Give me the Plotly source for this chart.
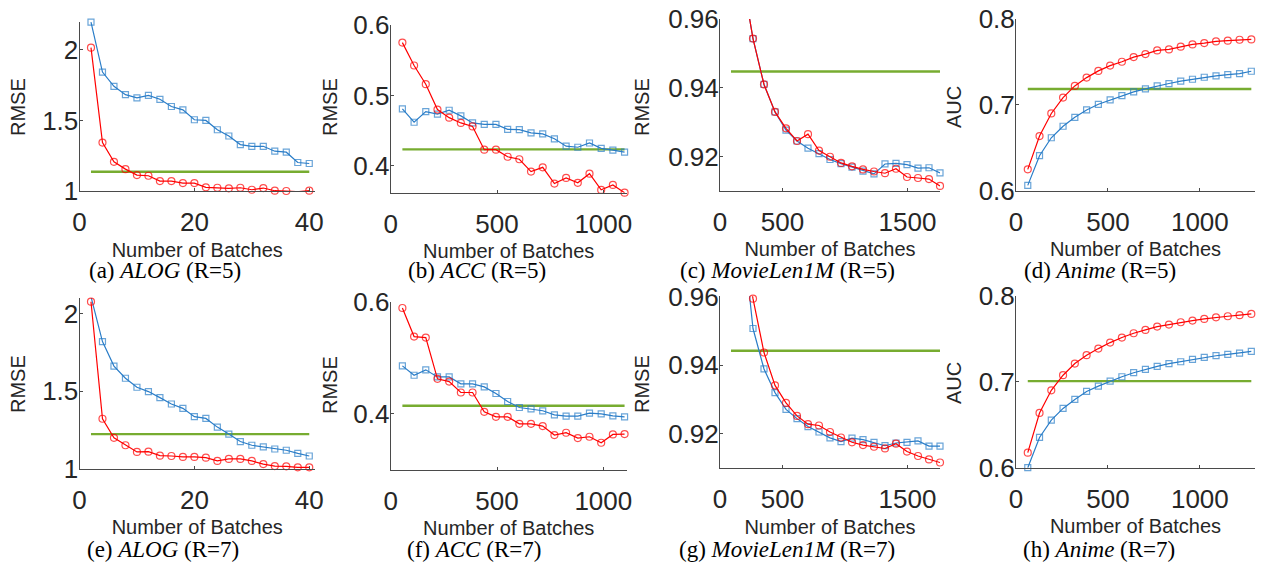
import plotly.graph_objects as go

# ---------------- data ----------------
alog_x = [2, 4, 6, 8, 10, 12, 14, 16, 18, 20, 22, 24, 26, 28, 30, 32, 34, 36, 38, 40]
acc_x = [55, 110, 165, 220, 275, 330, 385, 440, 495, 550, 605, 660, 715, 770, 825, 880, 935, 990, 1045, 1100]
movie_x = [176, 264, 352, 440, 528, 616, 704, 792, 880, 968, 1056, 1144, 1232, 1320, 1408, 1496, 1584, 1672, 1760]
anime_x = [64, 128, 192, 256, 320, 384, 448, 512, 576, 640, 704, 768, 832, 896, 960, 1024, 1088, 1152, 1216, 1280]

# R=5
alog5_red = [2.016, 1.343, 1.207, 1.155, 1.113, 1.108, 1.070, 1.070, 1.056, 1.056, 1.026, 1.023, 1.019, 1.023, 1.009, 1.021, 1.002, 1.000, 0.995, 1.002]
alog5_blue = [2.197, 1.843, 1.742, 1.683, 1.660, 1.678, 1.650, 1.599, 1.575, 1.505, 1.500, 1.434, 1.390, 1.329, 1.317, 1.317, 1.282, 1.275, 1.202, 1.195]
alog5_green = [1.136, 1.136]

acc5_red = [0.575, 0.5425, 0.516, 0.480, 0.4685, 0.461, 0.456, 0.423, 0.423, 0.413, 0.4095, 0.392, 0.398, 0.375, 0.383, 0.376, 0.389, 0.366, 0.373, 0.362]
acc5_blue = [0.481, 0.462, 0.477, 0.4735, 0.479, 0.471, 0.461, 0.459, 0.459, 0.452, 0.4515, 0.447, 0.4455, 0.4385, 0.428, 0.4265, 0.4325, 0.425, 0.4225, 0.4195]
acc5_green = [0.4235, 0.4235]

movie5_red = [0.9731, 0.9544, 0.9410, 0.9330, 0.9282, 0.9245, 0.9265, 0.9217, 0.9199, 0.9181, 0.9171, 0.9162, 0.9156, 0.9151, 0.9164, 0.9140, 0.9137, 0.9134, 0.9114]
movie5_blue = [0.9731, 0.9544, 0.9410, 0.9330, 0.9277, 0.9245, 0.9224, 0.9208, 0.9191, 0.9179, 0.9169, 0.9157, 0.9149, 0.9178, 0.9180, 0.9176, 0.9166, 0.9167, 0.9152]
movie5_green = [0.9448, 0.9448]

anime5_red = [0.6249, 0.6637, 0.6900, 0.7085, 0.7221, 0.7318, 0.7396, 0.7458, 0.7503, 0.7557, 0.7592, 0.7635, 0.7647, 0.7678, 0.7705, 0.7720, 0.7740, 0.7748, 0.7759, 0.7763]
anime5_blue = [0.6062, 0.6408, 0.6617, 0.6751, 0.6855, 0.6941, 0.7007, 0.7058, 0.7109, 0.7151, 0.7186, 0.7221, 0.7249, 0.7276, 0.7299, 0.7322, 0.7338, 0.7353, 0.7365, 0.7392]
anime5_green = [0.7186, 0.7186]

# R=7
alog7_red = [2.076, 1.322, 1.199, 1.151, 1.108, 1.110, 1.084, 1.082, 1.076, 1.076, 1.071, 1.050, 1.063, 1.063, 1.050, 1.030, 1.017, 1.015, 1.009, 1.009]
alog7_blue = [2.108, 1.819, 1.661, 1.583, 1.525, 1.497, 1.458, 1.417, 1.389, 1.335, 1.324, 1.268, 1.223, 1.175, 1.151, 1.140, 1.127, 1.119, 1.099, 1.082]
alog7_green = [1.223, 1.223]

acc7_red = [0.5893, 0.5381, 0.5363, 0.4625, 0.4577, 0.4381, 0.4381, 0.4036, 0.3946, 0.3946, 0.3821, 0.3821, 0.3780, 0.3619, 0.3661, 0.3565, 0.3589, 0.3482, 0.3631, 0.3637]
acc7_blue = [0.4857, 0.4690, 0.4786, 0.4660, 0.4660, 0.4536, 0.4536, 0.4482, 0.4363, 0.4220, 0.4113, 0.4089, 0.4054, 0.3982, 0.3958, 0.3958, 0.4012, 0.4000, 0.3964, 0.3946]
acc7_green = [0.4143, 0.4143]

movie7_red = [0.9790, 0.9594, 0.9437, 0.9341, 0.9290, 0.9252, 0.9228, 0.9224, 0.9205, 0.9189, 0.9175, 0.9167, 0.9162, 0.9157, 0.9171, 0.9148, 0.9135, 0.9125, 0.9116]
movie7_blue = [0.9813, 0.9507, 0.9389, 0.9320, 0.9271, 0.9244, 0.9221, 0.9205, 0.9188, 0.9177, 0.9187, 0.9183, 0.9175, 0.9165, 0.9173, 0.9175, 0.9179, 0.9164, 0.9164]
movie7_green = [0.9442, 0.9442]

anime7_red = [0.6175, 0.6638, 0.6902, 0.7078, 0.7214, 0.7311, 0.7388, 0.7458, 0.7517, 0.7567, 0.7606, 0.7645, 0.7668, 0.7695, 0.7715, 0.7734, 0.7753, 0.7765, 0.7777, 0.7792]
anime7_blue = [0.6000, 0.6353, 0.6555, 0.6691, 0.6796, 0.6889, 0.6951, 0.7009, 0.7060, 0.7107, 0.7146, 0.7181, 0.7212, 0.7235, 0.7262, 0.7285, 0.7305, 0.7320, 0.7336, 0.7355]
anime7_green = [0.7009, 0.7009]

# tick labels
alog_xticks = [0, 20, 40]
alog_xtext = ["0", "20", "40"]
alog_yticks = [1, 1.5, 2]
alog_ytext = ["1", "1.5", "2"]
acc_xticks = [0, 500, 1000]
acc_xtext = ["0", "500", "1000"]
acc5_yticks = [0.4, 0.5, 0.6]
acc5_ytext = ["0.4", "0.5", "0.6"]
acc7_yticks = [0.4, 0.6]
acc7_ytext = ["0.4", "0.6"]
movie_xticks = [0, 500, 1500]
movie_xtext = ["0", "500", "1500"]
movie_yticks = [0.92, 0.94, 0.96]
movie_ytext = ["0.92", "0.94", "0.96"]
anime_xticks = [0, 500, 1000]
anime_xtext = ["0", "500", "1000"]
anime_yticks = [0.6, 0.7, 0.8]
anime_ytext = ["0.6", "0.7", "0.8"]

captions = ["(a) <i>ALOG</i> (R=5)", "(b) <i>ACC</i> (R=5)", "(c) <i>MovieLen1M</i> (R=5)", "(d) <i>Anime</i> (R=5)",
            "(e) <i>ALOG</i> (R=7)", "(f) <i>ACC</i> (R=7)", "(g) <i>MovieLen1M</i> (R=7)", "(h) <i>Anime</i> (R=7)"]
metrics = ["RMSE", "RMSE", "RMSE", "AUC", "RMSE", "RMSE", "RMSE", "AUC"]
xlabel = "Number of Batches"

# ---------------- layout geometry ----------------
# the page body has an 8px margin, so the figure is drawn 8px in from the window corner
OFF = 8
W, H = 1265 - OFF, 564 - OFF
RED = "#ff0000"
BLUE = "#2a7dc8"
GREEN = "#77ac30"
AX = "#4a4a4a"
TXT = "#262626"

panels = [
    dict(x=alog_x, red=alog5_red, blue=alog5_blue, green=alog5_green, gx=[2, 40],
         xr=[0, 41], yr=[1, 2.2], xt=alog_xticks, xtt=alog_xtext, yt=alog_yticks, ytt=alog_ytext,
         px=(79.5, 315), py=(21.7, 191), cap=(165, 271), ylab=(18, 107)),
    dict(x=acc_x, red=acc5_red, blue=acc5_blue, green=acc5_green, gx=[55, 1100],
         xr=[0, 1110], yr=[0.362, 0.6], xt=acc_xticks, xtt=acc_xtext, yt=acc5_yticks, ytt=acc5_ytext,
         px=(390.7, 626.7), py=(25, 192.7), cap=(477, 271), ylab=(330, 107)),
    dict(x=movie_x, red=movie5_red, blue=movie5_blue, green=movie5_green, gx=[88, 1760],
         xr=[0, 1760], yr=[0.91, 0.9601], xt=movie_xticks, xtt=movie_xtext, yt=movie_yticks, ytt=movie_ytext,
         px=(720, 940), py=(19, 190.7), cap=(787.5, 271), ylab=(642, 107)),
    dict(x=anime_x, red=anime5_red, blue=anime5_blue, green=anime5_green, gx=[64, 1280],
         xr=[0, 1300], yr=[0.6, 0.8001], xt=anime_xticks, xtt=anime_xtext, yt=anime_yticks, ytt=anime_ytext,
         px=(1016, 1255), py=(19, 190.7), cap=(1100, 271), ylab=(954, 107)),
    dict(x=alog_x, red=alog7_red, blue=alog7_blue, green=alog7_green, gx=[2, 40],
         xr=[0, 41], yr=[1, 2.1], xt=alog_xticks, xtt=alog_xtext, yt=alog_yticks, ytt=alog_ytext,
         px=(79.5, 315), py=(298, 468.7), cap=(162.5, 549), ylab=(18, 384)),
    dict(x=acc_x, red=acc7_red, blue=acc7_blue, green=acc7_green, gx=[55, 1100],
         xr=[0, 1110], yr=[0.3, 0.6], xt=acc_xticks, xtt=acc_xtext, yt=acc7_yticks, ytt=acc7_ytext,
         px=(390.7, 626.7), py=(302, 469.7), cap=(474, 549), ylab=(330, 385)),
    dict(x=movie_x, red=movie7_red, blue=movie7_blue, green=movie7_green, gx=[88, 1760],
         xr=[0, 1760], yr=[0.91, 0.9601], xt=movie_xticks, xtt=movie_xtext, yt=movie_yticks, ytt=movie_ytext,
         px=(720, 940), py=(296.3, 468), cap=(786.7, 549), ylab=(642, 384)),
    dict(x=anime_x, red=anime7_red, blue=anime7_blue, green=anime7_green, gx=[64, 1280],
         xr=[0, 1300], yr=[0.6, 0.8001], xt=anime_xticks, xtt=anime_xtext, yt=anime_yticks, ytt=anime_ytext,
         px=(1016, 1255), py=(296, 467.7), cap=(1099, 549), ylab=(954, 383)),
]


def fx(px):
    return (px - OFF) / W


def fy(py):
    return (H - (py - OFF)) / H


fig = go.Figure()
layout = dict(
    width=W, height=H, margin=dict(l=0, r=0, t=0, b=0, autoexpand=False),
    paper_bgcolor="white", plot_bgcolor="white", showlegend=False,
    font=dict(family="Liberation Sans, Arial, sans-serif", color=TXT),
)
annotations = []


def msize(vals, yr):
    return [0 if (v > yr[1] or v < yr[0] - 0.01) else 6 for v in vals]


for i, p in enumerate(panels):
    n = i + 1
    xa = "x" if n == 1 else f"x{n}"
    ya = "y" if n == 1 else f"y{n}"

    fig.add_trace(go.Scatter(
        x=p["gx"], y=p["green"], mode="lines", name="Static baseline",
        line=dict(color=GREEN, width=2.4), xaxis=xa, yaxis=ya))
    fig.add_trace(go.Scatter(
        x=p["x"], y=p["blue"], mode="lines+markers", name="Streaming baseline",
        line=dict(color=BLUE, width=1.2),
        marker=dict(symbol="square-open", size=msize(p["blue"], p["yr"]), color=BLUE, line=dict(width=1.2)),
        cliponaxis=False, xaxis=xa, yaxis=ya))
    fig.add_trace(go.Scatter(
        x=p["x"], y=p["red"], mode="lines+markers", name="Proposed",
        line=dict(color=RED, width=1.2),
        marker=dict(symbol="circle-open", size=[s + 1 if s else 0 for s in msize(p["red"], p["yr"])],
                    color=RED, line=dict(width=1.2)),
        cliponaxis=False, xaxis=xa, yaxis=ya))

    x0, x1 = p["px"]
    yt, yb = p["py"]
    xkey = "xaxis" if n == 1 else f"xaxis{n}"
    ykey = "yaxis" if n == 1 else f"yaxis{n}"
    layout[xkey] = dict(
        domain=[fx(x0), fx(x1)], range=p["xr"], anchor=ya, automargin=False,
        tickmode="array", tickvals=p["xt"], ticktext=p["xtt"], ticklabeloverflow="allow",
        showline=True, linecolor=AX, linewidth=1, mirror=False,
        ticks="inside", ticklen=3, tickcolor=AX, showgrid=False, zeroline=False,
        tickfont=dict(size=26, color=TXT), ticklabelstandoff=8,
        title=dict(text=xlabel, font=dict(size=20, color=TXT), standoff=6),
    )
    layout[ykey] = dict(
        domain=[fy(yb), fy(yt)], range=p["yr"], anchor=xa, automargin=False,
        tickmode="array", tickvals=p["yt"], ticktext=p["ytt"], ticklabeloverflow="allow",
        showline=True, linecolor=AX, linewidth=1, mirror=False,
        ticks="inside", ticklen=3, tickcolor=AX, showgrid=False, zeroline=False,
        tickfont=dict(size=26, color=TXT), ticklabelstandoff=-5,
    )
    lx, ly = p["ylab"]
    annotations.append(dict(
        text=metrics[i], x=fx(lx), y=fy(ly), xref="paper", yref="paper", textangle=-90,
        xanchor="center", yanchor="middle", showarrow=False,
        font=dict(size=20, color=TXT)))
    cx, cy = p["cap"]
    annotations.append(dict(
        text=captions[i], x=fx(cx), y=fy(cy), xref="paper", yref="paper",
        xanchor="center", yanchor="middle", showarrow=False,
        font=dict(family="Liberation Serif, Times New Roman, serif", size=23, color="black")))

layout["annotations"] = annotations
fig.update_layout(**layout)
fig.write_html("out.html")
